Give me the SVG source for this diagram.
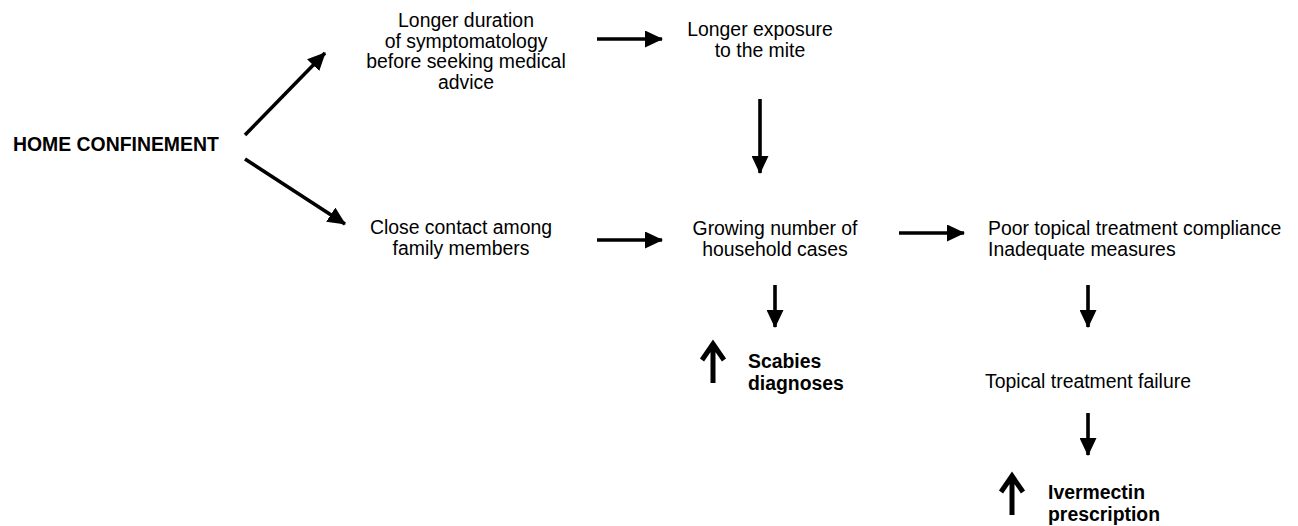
<svg xmlns="http://www.w3.org/2000/svg" width="1298" height="526" viewBox="0 0 1298 526">
<defs>
<style>
.t{font-family:"Liberation Sans",Arial,sans-serif;font-size:19.4px;fill:#000}
.c{text-anchor:middle}
.b{font-weight:bold}
.ln{stroke:#000;stroke-width:3.6;fill:none}
.up{stroke:#000;stroke-width:5;fill:none;stroke-linejoin:miter}
</style>
<marker id="ah" markerUnits="userSpaceOnUse" markerWidth="18" markerHeight="17" refX="17" refY="8.5" orient="auto" viewBox="0 0 18 17">
<path d="M0,0 L18,8.5 L0,17 Z" fill="#000"/>
</marker>
</defs>
<rect width="1298" height="526" fill="#fff"/>
<g id="connectors">
<line class="ln" x1="245" y1="135" x2="325" y2="53" marker-end="url(#ah)"/>
<line class="ln" x1="245" y1="159" x2="345" y2="224" marker-end="url(#ah)"/>
<line class="ln" x1="597" y1="39" x2="662" y2="39" marker-end="url(#ah)"/>
<line class="ln" x1="760" y1="99" x2="760" y2="173" marker-end="url(#ah)"/>
<line class="ln" x1="597" y1="240" x2="662" y2="240" marker-end="url(#ah)"/>
<line class="ln" x1="899" y1="233" x2="964" y2="233" marker-end="url(#ah)"/>
<line class="ln" x1="775" y1="285" x2="775" y2="327" marker-end="url(#ah)"/>
<line class="ln" x1="1088" y1="285" x2="1088" y2="327" marker-end="url(#ah)"/>
<line class="ln" x1="1088" y1="413" x2="1088" y2="455" marker-end="url(#ah)"/>
</g>
<g id="home"><text class="t b" x="13" y="151">HOME CONFINEMENT</text></g>
<g id="duration">
<text class="t c" x="466" y="27">Longer duration</text>
<text class="t c" x="466" y="47.5">of symptomatology</text>
<text class="t c" x="466" y="68">before seeking medical</text>
<text class="t c" x="466" y="88.5">advice</text>
</g>
<g id="exposure">
<text class="t c" x="760" y="36">Longer exposure</text>
<text class="t c" x="760" y="57">to the mite</text>
</g>
<g id="contact">
<text class="t c" x="461" y="234">Close contact among</text>
<text class="t c" x="461" y="255">family members</text>
</g>
<g id="growing">
<text class="t c" x="775" y="235">Growing number of</text>
<text class="t c" x="775" y="256">household cases</text>
</g>
<g id="poor">
<text class="t" x="988" y="235">Poor topical treatment compliance</text>
<text class="t" x="988" y="256">Inadequate measures</text>
</g>
<g id="scabies">
<path class="up" d="M713,383 V345 M702,360 L713,344 L724,360"/>
<text class="t b" x="748" y="368">Scabies</text>
<text class="t b" x="748" y="390">diagnoses</text>
</g>
<g id="failure"><text class="t c" x="1088" y="388">Topical treatment failure</text></g>
<g id="ivermectin">
<path class="up" d="M1012,515 V477 M1001,492 L1012,476 L1023,492"/>
<text class="t b" x="1048" y="499">Ivermectin</text>
<text class="t b" x="1048" y="521">prescription</text>
</g>
</svg>
